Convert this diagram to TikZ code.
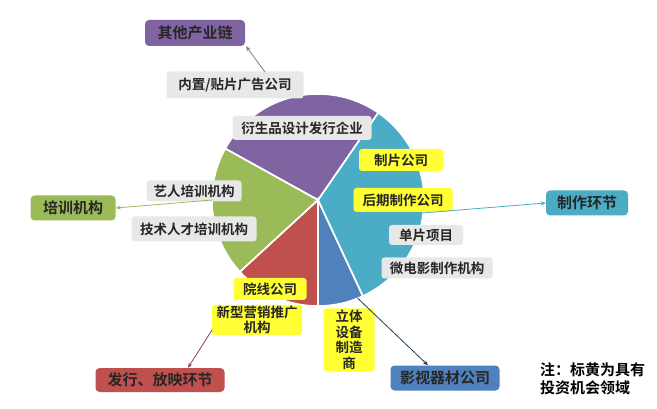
\documentclass[tikz,border=0pt]{standalone}
\usepackage{fontspec}
\setmainfont{Noto Sans CJK SC}[BoldFont={Noto Sans CJK SC Bold}]
\usetikzlibrary{arrows.meta,calc}
\definecolor{cpurple}{HTML}{8064A2}
\definecolor{ccyan}{HTML}{4BACC6}
\definecolor{cgreen}{HTML}{9BBB59}
\definecolor{cred}{HTML}{C0504D}
\definecolor{cblue}{HTML}{4F81BD}
\definecolor{cgray}{HTML}{E8E8E8}
\definecolor{cyel}{HTML}{FFFF33}
\tikzset{
  x=1pt,y=-1pt,
  lab/.style={rounded corners=3pt,inner sep=0pt,font=\bfseries\fontsize{13.5}{15.5}\selectfont,text=black!85},
  graybox/.style={lab,fill=cgray},
  yelbox/.style={lab,fill=cyel,align=center},
  mainbox/.style={rounded corners=4pt,inner sep=0pt,font=\bfseries\fontsize{15}{17}\selectfont,text=black!85,minimum height=25pt},
  slice/.style={draw=white,line width=1.5pt},
  conn/.style={line width=0.8pt,-{Stealth[length=5pt,width=4pt]}}
}
\begin{document}
\begin{tikzpicture}
\useasboundingbox (0,0) rectangle (657,409);
\fill[white] (0,0) rectangle (657,409);
% pie
\coordinate (pc) at (318,200);
\def\R{106}
\begin{scope}[shift={(pc)},yscale=-1]
\fill[ccyan,slice] (0,0) -- (-65:\R) arc[start angle=-65,end angle=55.4,radius=\R] -- cycle;
\fill[cpurple,slice] (0,0) -- (55.4:\R) arc[start angle=55.4,end angle=151,radius=\R] -- cycle;
\fill[cgreen,slice] (0,0) -- (151:\R) arc[start angle=151,end angle=222.6,radius=\R] -- cycle;
\fill[cred,slice] (0,0) -- (222.6:\R) arc[start angle=222.6,end angle=270,radius=\R] -- cycle;
\fill[cblue,slice] (0,0) -- (270:\R) arc[start angle=270,end angle=295,radius=\R] -- cycle;
\draw[slice] (0,0) -- (-65:\R);
\draw[slice] (0,0) -- (55.4:\R);
\draw[slice] (0,0) -- (151:\R);
\draw[slice] (0,0) -- (222.6:\R);
\draw[slice] (0,0) -- (270:\R);
\coordinate (pr) at (-7:\R);
\coordinate (pl) at (180:\R);
\coordinate (pb) at (-68:\R);
\end{scope}
% main boxes
\node[mainbox,fill=cpurple,minimum width=100pt,minimum height=26pt] (other) at (195,33) {其他产业链};
\node[mainbox,fill=ccyan,minimum width=82pt] (prod) at (587,203) {制作环节};
\node[mainbox,fill=cgreen,minimum width=85pt] (train) at (73,208) {培训机构};
\node[mainbox,fill=cred,minimum width=129pt,minimum height=24pt] (dist) at (160,380) {发行、放映环节};
\node[mainbox,fill=cblue,minimum width=109pt] (equip) at (445,378) {影视器材公司};
% label boxes
\node[graybox,minimum width=137pt,minimum height=27pt] (ad) at (235,85) {内置/贴片广告公司};
\node[graybox,minimum width=139pt,minimum height=24pt] (deriv) at (302,128) {衍生品设计发行企业};
\node[yelbox,minimum width=84pt,minimum height=22pt] (zp) at (401,160) {制片公司};
\node[yelbox,minimum width=99pt,minimum height=24pt] (hq) at (403,200) {后期制作公司};
\node[graybox,minimum width=74pt,minimum height=20pt] (dp) at (426,235) {单片项目};
\node[graybox,minimum width=111pt,minimum height=21pt] (wdy) at (437,268) {微电影制作机构};
\node[yelbox,minimum width=51pt,minimum height=63pt] (lt) at (349,340) {立体\\设备\\制造\\商};
\node[graybox,minimum width=95pt,minimum height=21pt] (yr) at (194,191) {艺人培训机构};
\node[graybox,minimum width=125pt,minimum height=25pt] (js) at (194,229) {技术人才培训机构};
\node[yelbox,minimum width=73pt,minimum height=22pt] (yx) at (270,289) {院线公司};
\node[yelbox,minimum width=90pt,minimum height=30pt] (xx) at (257,320) {新型营销推广\\机构};
% note
\node[anchor=north west,inner sep=0pt,align=left,font=\bfseries\fontsize{15}{18}\selectfont] (note) at (540,362) {注：标黄为具有\\投资机会领域};
% connectors
\coordinate (adstart) at (265,72);
\draw[conn,draw=black!50] (adstart) -- (other.south -| 246,0);
\draw[conn,draw=ccyan] (pr) -- (prod.west);
\draw[conn,draw=cgreen] (pl) -- (train.east);
\coordinate (xxs) at (212,330);
\draw[conn,draw=cred!80!black] (xxs) -- (dist.north -| 188,0);
\draw[conn,draw=black!55!cblue] (pb) -- (equip.north -| 428,0);
\end{tikzpicture}
\end{document}
